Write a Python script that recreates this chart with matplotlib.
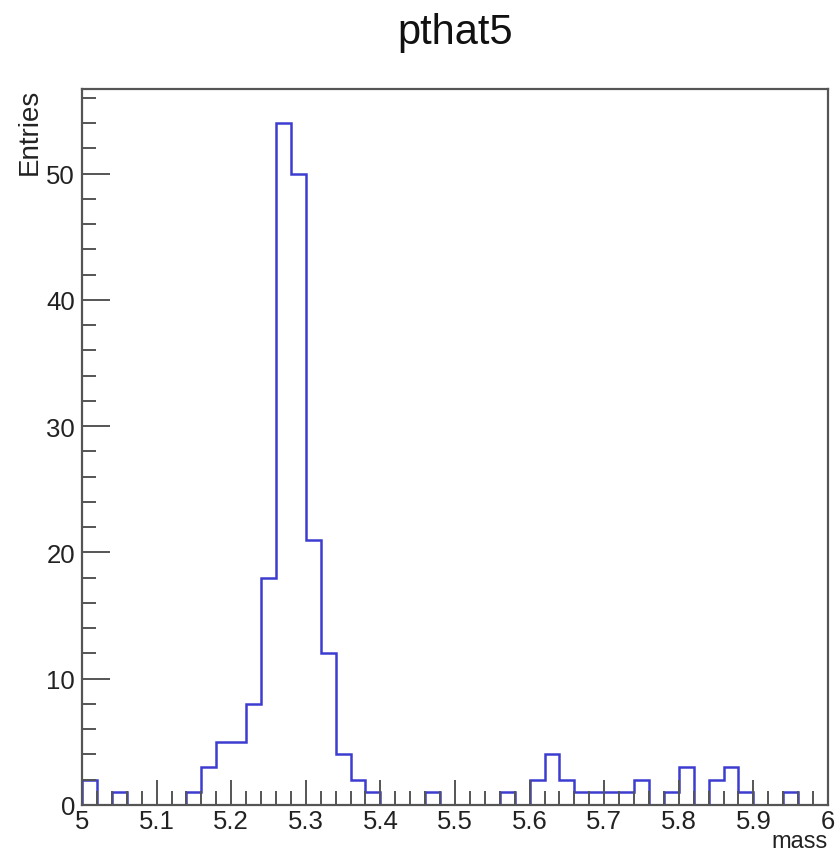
import numpy as np
import matplotlib
matplotlib.use("Agg")
import matplotlib.pyplot as plt
from matplotlib.ticker import MultipleLocator

plt.rcParams['font.family'] = ['Liberation Sans', 'DejaVu Sans']

# Histogram: 50 bins from 5.0 to 6.0
bin_low = 5.0
bin_high = 6.0
n_bins = 50
counts = [2, 0, 1, 0, 0, 0, 0, 1, 3, 5,
          5, 8, 18, 54, 50, 21, 12, 4, 2, 1,
          0, 0, 0, 1, 0, 0, 0, 0, 1, 0,
          2, 4, 2, 1, 1, 1, 1, 2, 0, 1,
          3, 0, 2, 3, 1, 0, 0, 1, 0, 0]
title = "pthat5"
xlabel = "mass"
ylabel = "Entries"

edges = np.linspace(bin_low, bin_high, n_bins + 1)

W, H = 836, 854
fig = plt.figure(figsize=(W / 100, H / 100), dpi=100)
ax = fig.add_axes([82 / W, (H - 806) / H, 746 / W, 716 / H])

ax.stairs(counts, edges, color='#3c3cd0', linewidth=1.8, baseline=0)

ax.set_xlim(bin_low, bin_high)
ax.set_ylim(0, max(counts) * 1.05)

ax.xaxis.set_major_locator(MultipleLocator(0.1))
ax.xaxis.set_minor_locator(MultipleLocator(0.02))
ax.yaxis.set_major_locator(MultipleLocator(10))
ax.yaxis.set_minor_locator(MultipleLocator(2))

ax.xaxis.set_major_formatter(matplotlib.ticker.FuncFormatter(
    lambda v, p: ('%g' % round(v, 2))))

frame_col = '#555555'
for s in ax.spines.values():
    s.set_color(frame_col)
    s.set_linewidth(1.6)

ax.tick_params(axis='both', which='both', direction='in', color=frame_col,
               top=False, right=False)
ax.tick_params(axis='x', which='major', length=18, width=1.4, labelsize=18.5, pad=3)
ax.tick_params(axis='x', which='minor', length=10, width=1.4)
ax.tick_params(axis='y', which='major', length=20, width=1.4, labelsize=18.5, pad=5)
ax.tick_params(axis='y', which='minor', length=10, width=1.4)
for lab in ax.get_xticklabels() + ax.get_yticklabels():
    lab.set_color('#222222')

fig.text(455 / W, 1 - 44 / H, title, ha='center', va='baseline', fontsize=30,
         color='#111111')
fig.text(828 / W, 1 - 853 / H, xlabel, ha='right', va='bottom', fontsize=17,
         color='#222222')
fig.text(30 / W, 1 - 89 / H, ylabel, ha='center', va='top', rotation=90,
         fontsize=20, color='#222222')

fig.savefig("out.png", dpi=100)
